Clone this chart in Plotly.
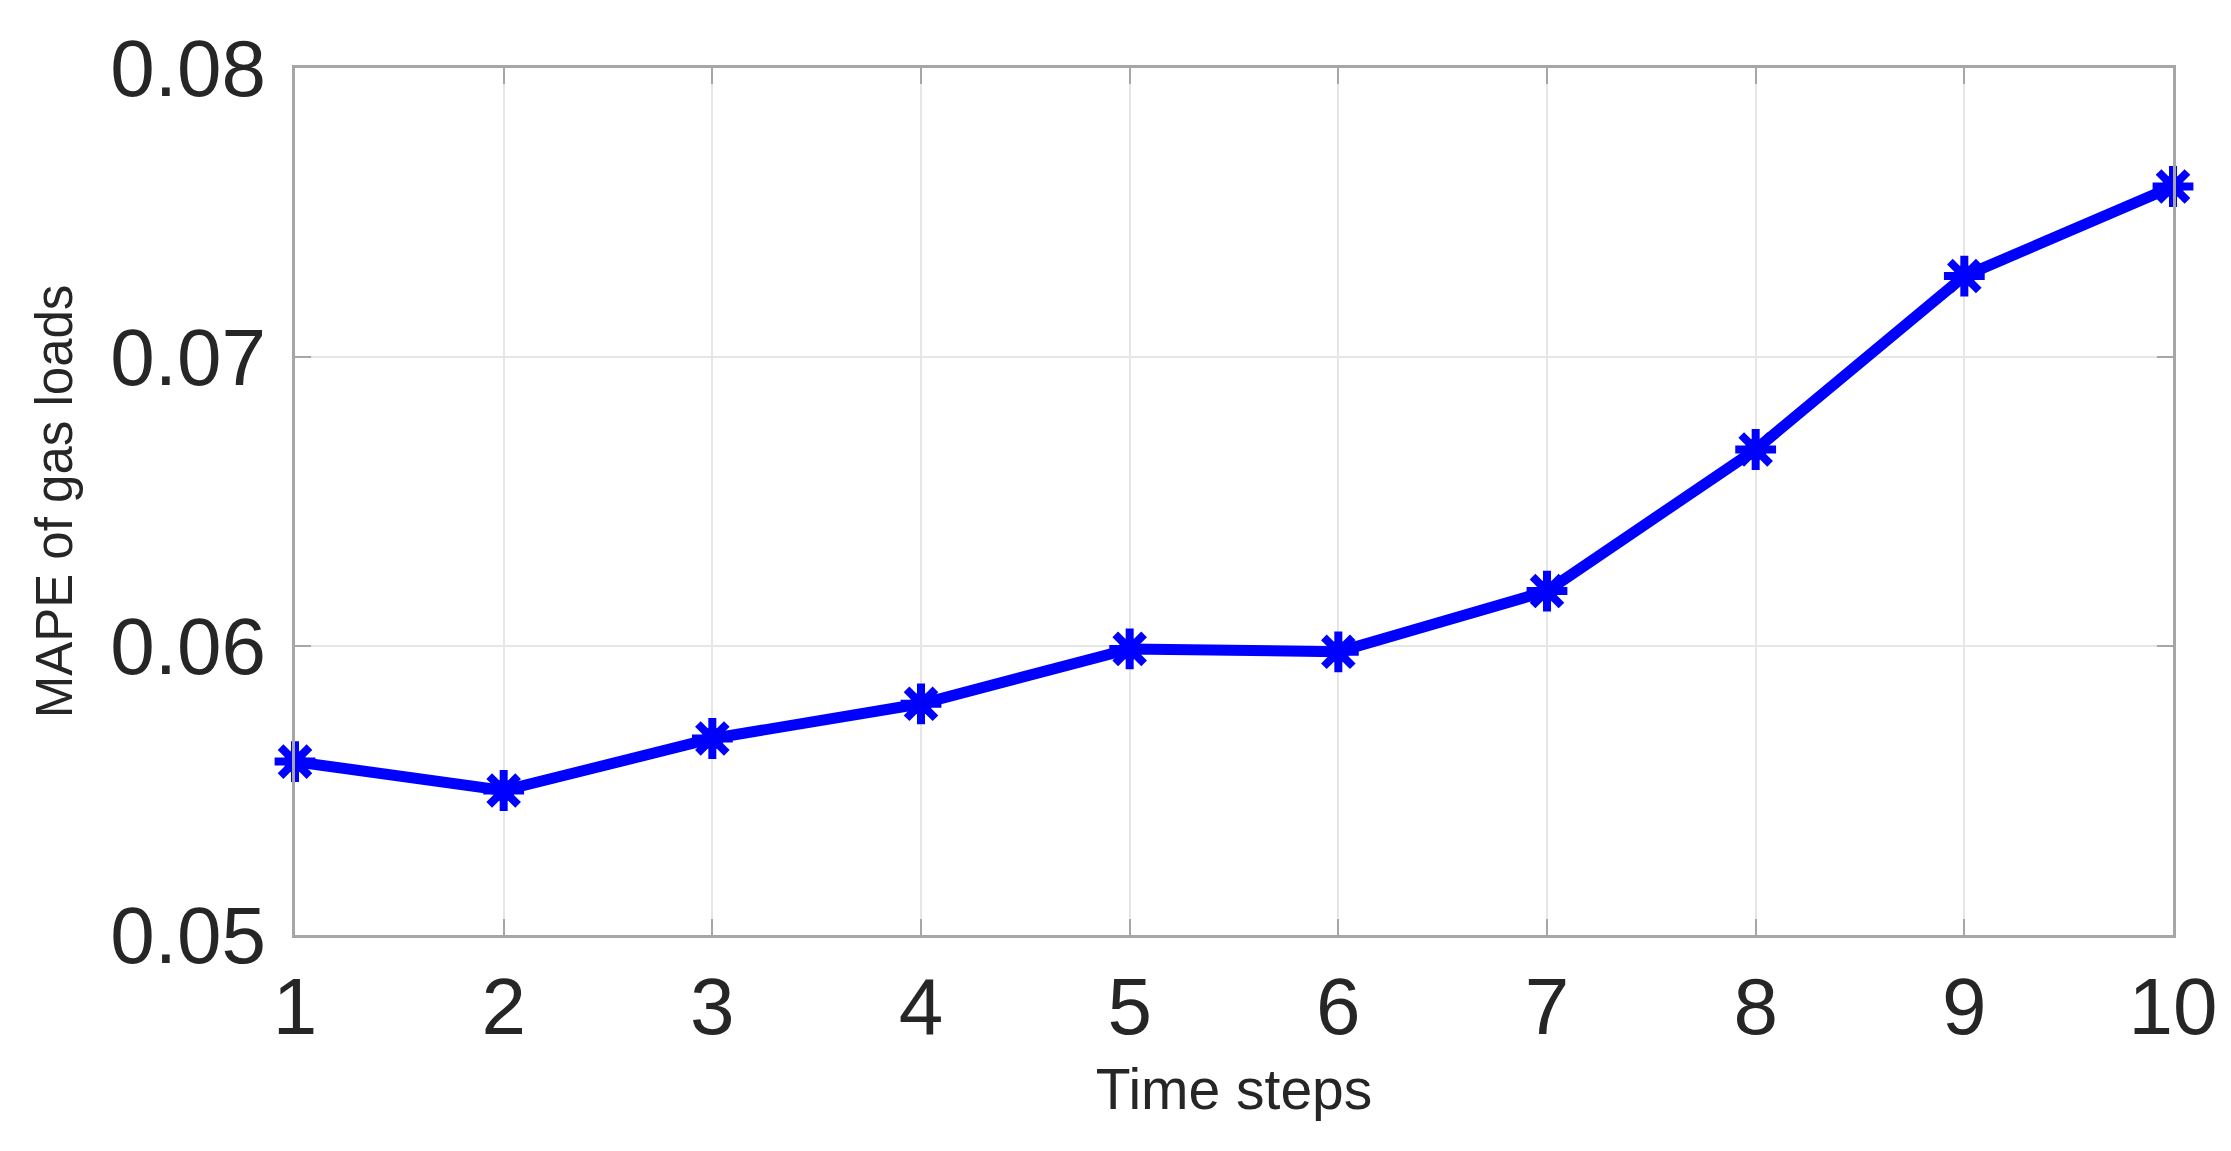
import plotly.graph_objects as go

# data
time_steps = [1, 2, 3, 4, 5, 6, 7, 8, 9, 10]
mape_gas = [0.0560, 0.0550, 0.0568, 0.0580, 0.0599, 0.0598, 0.0619, 0.0668, 0.0728, 0.0759]
y_ticks = [0.05, 0.06, 0.07, 0.08]
y_tick_text = ["0.05", "0.06", "0.07", "0.08"]

fig = go.Figure()

# line plus a filled core so the asterisk markers look as heavy as the original
fig.add_trace(go.Scatter(
    x=time_steps,
    y=mape_gas,
    mode='lines+markers',
    line=dict(color='#0000ff', width=11),
    marker=dict(symbol='circle', size=22, color='#0000ff', line=dict(width=0)),
    showlegend=False,
    cliponaxis=False
))
fig.add_trace(go.Scatter(
    x=time_steps,
    y=mape_gas,
    mode='markers',
    marker=dict(symbol='asterisk-open', size=34, color='#0000ff',
                line=dict(color='#0000ff', width=8)),
    showlegend=False,
    cliponaxis=False
))

axis_common = dict(
    showline=True, linecolor='#a6a6a6', linewidth=3, mirror='ticks',
    showgrid=True, gridcolor='#e6e6e6', gridwidth=2,
    ticks='inside', ticklen=16, tickwidth=2, tickcolor='#a6a6a6',
    zeroline=False, automargin=False,
    tickfont=dict(family='Liberation Sans, Arial', size=80, color='#262626'),
)

fig.update_xaxes(
    range=[1, 10], tickmode='array', tickvals=time_steps,
    title=dict(text='Time steps', standoff=20,
               font=dict(family='Liberation Sans, Arial', size=57, color='#262626')),
    **axis_common
)
fig.update_yaxes(
    range=[0.05, 0.08], tickmode='array', tickvals=y_ticks, ticktext=y_tick_text,
    ticklabelstandoff=10,
    title=dict(text='MAPE of gas loads', standoff=22,
               font=dict(family='Liberation Sans, Arial', size=51, color='#262626')),
    **axis_common
)

fig.update_layout(
    width=2231, height=1151,
    margin=dict(l=287, r=66, t=60, b=224),
    plot_bgcolor='white', paper_bgcolor='white',
)

fig.write_html("out.html")
